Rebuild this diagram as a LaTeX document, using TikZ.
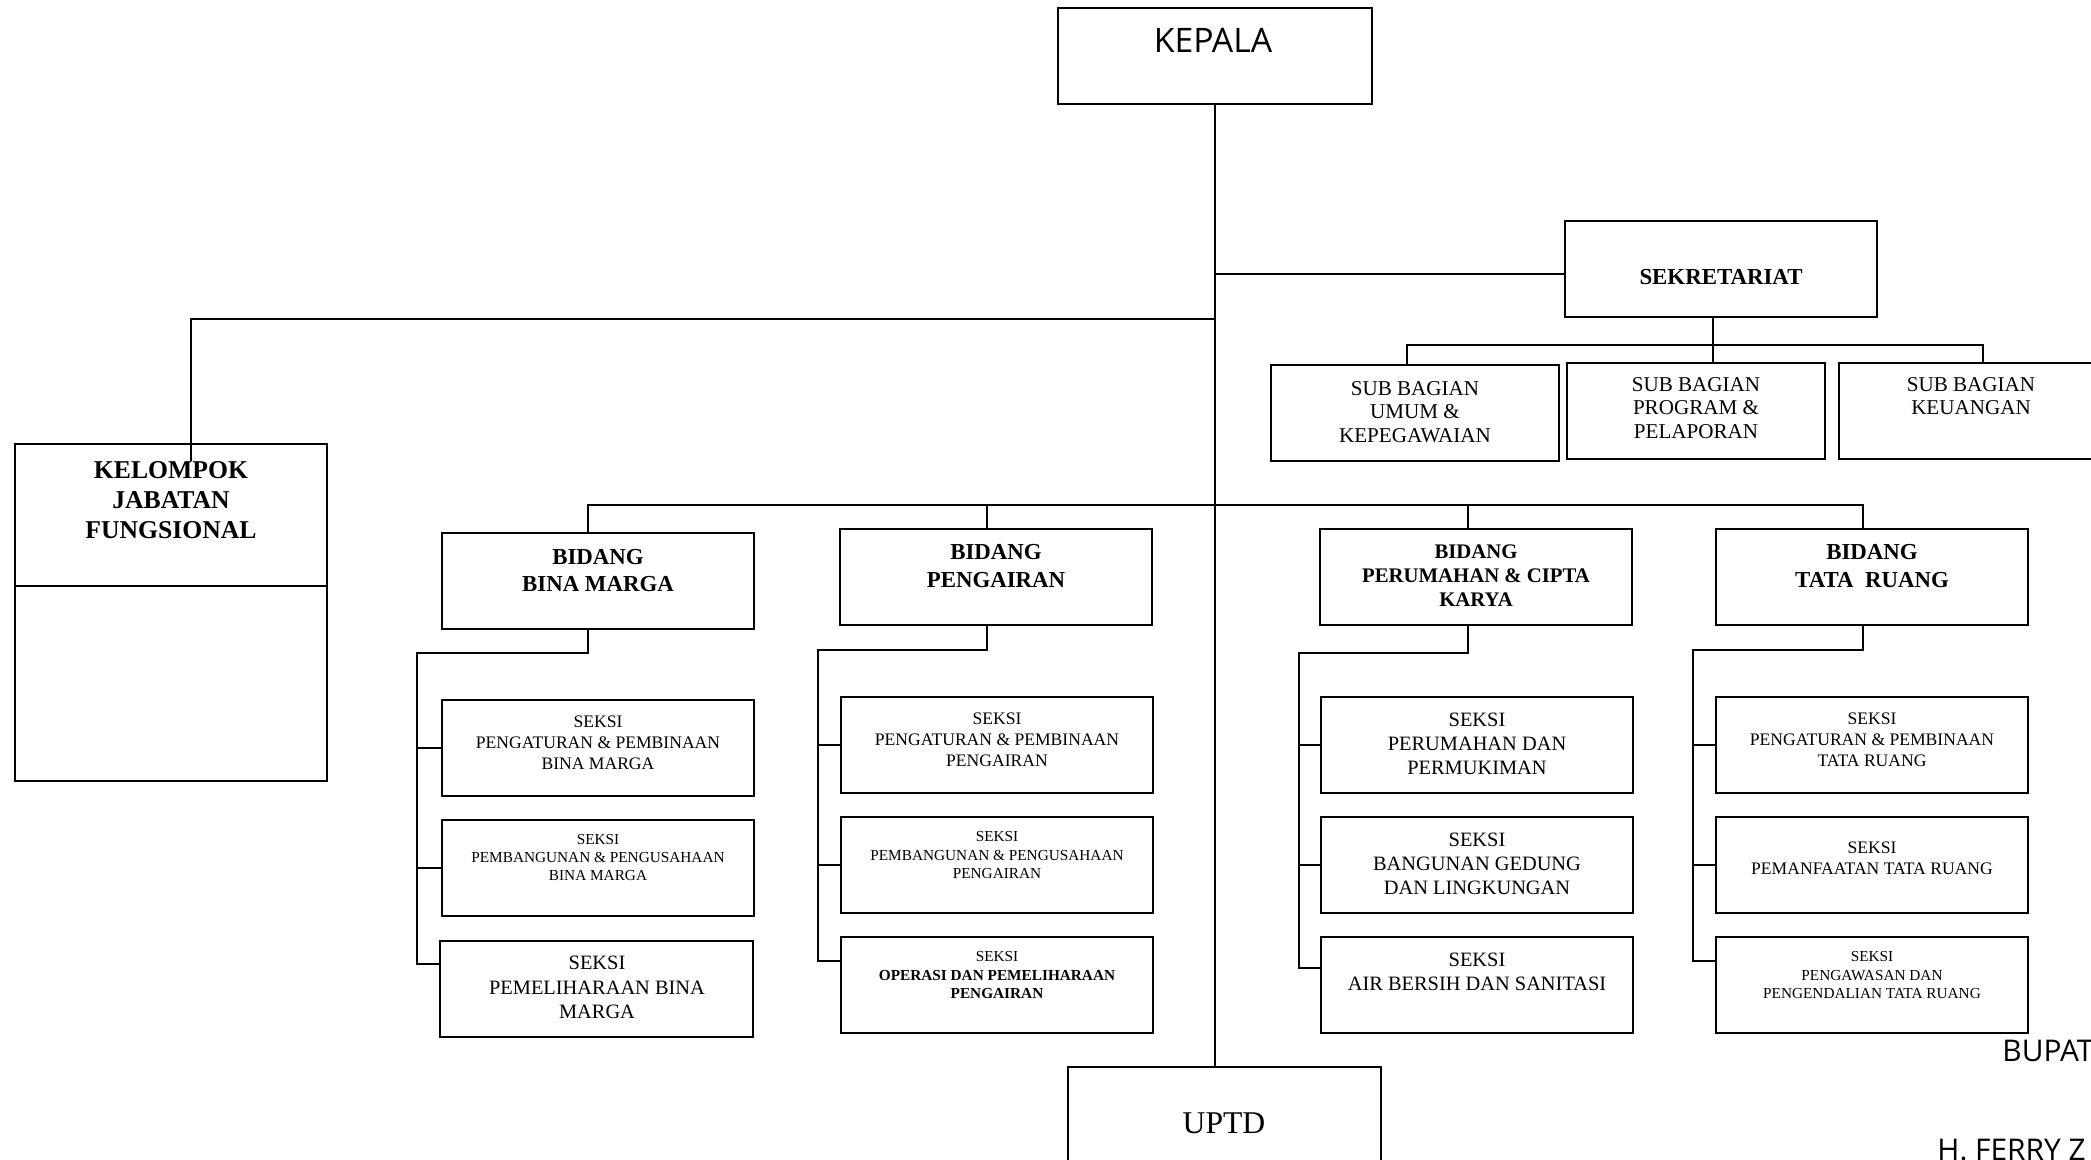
\documentclass[tikz,border=0pt]{standalone}
\usepackage{fontspec}
\setmainfont{Liberation Serif}
\newfontfamily\plainsans{Open Sans}
\usetikzlibrary{calc}

\begin{document}
\begin{tikzpicture}[
    x = 0.01cm, y = -0.01cm,
    box/.style  = {draw, line width = 0.6pt, inner sep = 0pt},
    unit/.style = {box, minimum width = 3.12cm, minimum height = 0.96cm},
    link/.style = {line width = 0.5pt},
    bold/.style = {align = center, font = \bfseries\fontsize{6.5}{7.7}\selectfont},
    sub/.style  = {align = center, font = \fontsize{6}{6.7}\selectfont},
    sxl/.style  = {align = center, font = \fontsize{5.8}{6.9}\selectfont},
    sxm/.style  = {align = center, font = \fontsize{5}{6}\selectfont},
    sxs/.style  = {align = center, font = \fontsize{4.35}{5.2}\selectfont},
    sans/.style = {font = \plainsans\fontsize{8.5}{10}\selectfont}
  ]
  \useasboundingbox (0,0) rectangle (2091,1159);
  \clip (0,0) rectangle (2091,1159);
  \fill[white] (0,0) rectangle (2091,1159);
  % boxes
  \node[unit, minimum width = 3.13cm]  (kepala) at (1215,  56) {};
  \node[unit]                          (sekr)   at (1721, 269) {};
  \node[unit, minimum width = 2.88cm]  (umum)   at (1415, 413) {};
  \node[unit, minimum width = 2.58cm]  (prog)   at (1696, 411) {};
  \node[unit, minimum width = 2.64cm]  (keu)    at (1971, 411) {};
  \node[unit, minimum height = 1.42cm] (kjf)    at ( 171, 515) {};
  \node[unit, minimum height = 1.95cm] (kjfb)   at ( 171, 683.5) {};
  \node[unit, minimum height = 1.50cm] (uptd)   at (1224.5, 1142) {};
  \node[unit] (bm)  at ( 598, 581) {};
  \node[unit] (pg)  at ( 996, 577) {};
  \node[unit] (pr)  at (1476, 577) {};
  \node[unit] (tr)  at (1872, 577) {};
  \node[unit] (bm1) at ( 598, 748) {};
  \node[unit] (bm2) at ( 598, 868) {};
  \node[unit] (bm3) at ( 596.5, 989) {};
  \node[unit] (pg1) at ( 997, 745) {};
  \node[unit] (pg2) at ( 997, 865) {};
  \node[unit] (pg3) at ( 997, 985) {};
  \node[unit] (pr1) at (1477, 745) {};
  \node[unit] (pr2) at (1477, 865) {};
  \node[unit] (pr3) at (1477, 985) {};
  \node[unit] (tr1) at (1872, 745) {};
  \node[unit] (tr2) at (1872, 865) {};
  \node[unit] (tr3) at (1872, 985) {};
  % texts
  \node[font = \plainsans\fontsize{9.6}{11}\selectfont] (kepala-t) at (1213, 40) {KEPALA};
  \node[bold] (sekr-t) at (1721, 277) {SEKRETARIAT};
  \node[sub]  (umum-t) at (1415, 412) {SUB BAGIAN\\UMUM \&\\KEPEGAWAIAN};
  \node[sub]  (prog-t) at (1696, 408) {SUB BAGIAN\\PROGRAM \&\\PELAPORAN};
  \node[sub]  (keu-t)  at (1971, 396) {SUB BAGIAN\\KEUANGAN};
  \node[bold, font = \bfseries\fontsize{7.3}{8.5}\selectfont] (kjf-t) at (171, 500) {KELOMPOK\\JABATAN\\FUNGSIONAL};
  \node[bold] (bm-t) at ( 598, 570.5) {BIDANG\\BINA MARGA};
  \node[bold] (pg-t) at ( 996, 566) {BIDANG\\PENGAIRAN};
  \node[bold, font = \bfseries\fontsize{5.9}{6.8}\selectfont] (pr-t) at (1476, 576) {BIDANG\\PERUMAHAN \& CIPTA\\KARYA};
  \node[bold] (tr-t) at (1872, 566) {BIDANG\\TATA~ RUANG};
  \node[sxm] (bm1-t) at ( 598, 743)   {SEKSI\\PENGATURAN \& PEMBINAAN\\BINA MARGA};
  \node[sxs] (bm2-t) at ( 598, 857.5) {SEKSI\\PEMBANGUNAN \& PENGUSAHAAN\\BINA MARGA};
  \node[sxl] (bm3-t) at ( 597, 987.5) {SEKSI\\PEMELIHARAAN BINA\\MARGA};
  \node[sxm] (pg1-t) at ( 997, 740)   {SEKSI\\PENGATURAN \& PEMBINAAN\\PENGAIRAN};
  \node[sxs] (pg2-t) at ( 997, 855)   {SEKSI\\PEMBANGUNAN \& PENGUSAHAAN\\PENGAIRAN};
  \node[sxs] (pg3-t) at ( 997, 975)   {SEKSI\\\textbf{OPERASI DAN PEMELIHARAAN}\\\textbf{PENGAIRAN}};
  \node[sxl] (pr1-t) at (1477, 744)   {SEKSI\\PERUMAHAN DAN\\PERMUKIMAN};
  \node[sxl] (pr2-t) at (1477, 864)   {SEKSI\\BANGUNAN GEDUNG\\DAN LINGKUNGAN};
  \node[sxl] (pr3-t) at (1477, 972)   {SEKSI\\AIR BERSIH DAN SANITASI};
  \node[sxm] (tr1-t) at (1872, 740)   {SEKSI\\PENGATURAN \& PEMBINAAN\\TATA RUANG};
  \node[sxm] (tr2-t) at (1872, 858)   {SEKSI\\PEMANFAATAN TATA RUANG};
  \node[sxs] (tr3-t) at (1872, 975)   {SEKSI\\PENGAWASAN DAN\\PENGENDALIAN TATA RUANG};
  \node[font = \fontsize{9}{10}\selectfont] (uptd-t) at (1224, 1123) {UPTD};
  \node[sans, anchor = base west] (bupati) at (1990, 1061) {BUPATI};
  \node[sans, anchor = base west] (nama)   at (1925, 1160) {H. FERRY Z};
  % connectors
  \coordinate (kbus) at (191, 319);
  \coordinate (sbus) at (0, 345);
  \coordinate (bbus) at (0, 505);
  \draw[link] (kepala) -- (kepala |- uptd.north);
  \draw[link] ($(sekr.west)+(0,5)$) -- ($(sekr.west -| kepala)+(0,5)$);
  \draw[link] ($(sekr.south)+(-8,0)$) -- ($(sekr.south |- prog.north)+(-8,0)$);
  \draw[link] ($(umum.north)+(-8,0)$) |- ($(sbus -| keu.north)+(12,0)$) -- ($(keu.north)+(12,0)$);
  \draw[link] (kepala |- kbus) -- (kbus) -- ($(kjf.north -| kbus)+(0,18)$);
  \draw[link] ($(bm.north)+(-10,0)$) |- ($(bbus -| tr.north)+(-9,0)$) -- ($(tr.north)+(-9,0)$);
  \draw[link] ($(pg.north)+(-9,0)$) -- ($(pg.north |- bbus)+(-9,0)$);
  \draw[link] ($(pr.north)+(-8,0)$) -- ($(pr.north |- bbus)+(-8,0)$);
  % seksi rails
  \coordinate (bmrail) at ( 417, 653);
  \coordinate (pgrail) at ( 818, 650);
  \coordinate (prrail) at (1299, 653);
  \coordinate (trrail) at (1693, 650);
  \draw[link] ($(bm.south)+(-10,0)$) |- (bmrail) |- ($(bm3.west)+(0,-25)$);
  \draw[link] (bm1.west) -- (bm1.west -| bmrail);
  \draw[link] (bm2.west) -- (bm2.west -| bmrail);
  \draw[link] ($(pg.south)+(-9,0)$) |- (pgrail) |- ($(pg3.west)+(0,-24)$);
  \draw[link] (pg1.west) -- (pg1.west -| pgrail);
  \draw[link] (pg2.west) -- (pg2.west -| pgrail);
  \draw[link] ($(pr.south)+(-8,0)$) |- (prrail) |- ($(pr3.west)+(0,-17)$);
  \draw[link] (pr1.west) -- (pr1.west -| prrail);
  \draw[link] (pr2.west) -- (pr2.west -| prrail);
  \draw[link] ($(tr.south)+(-9,0)$) |- (trrail) |- ($(tr3.west)+(0,-24)$);
  \draw[link] (tr1.west) -- (tr1.west -| trrail);
  \draw[link] (tr2.west) -- (tr2.west -| trrail);
\end{tikzpicture}
\end{document}
